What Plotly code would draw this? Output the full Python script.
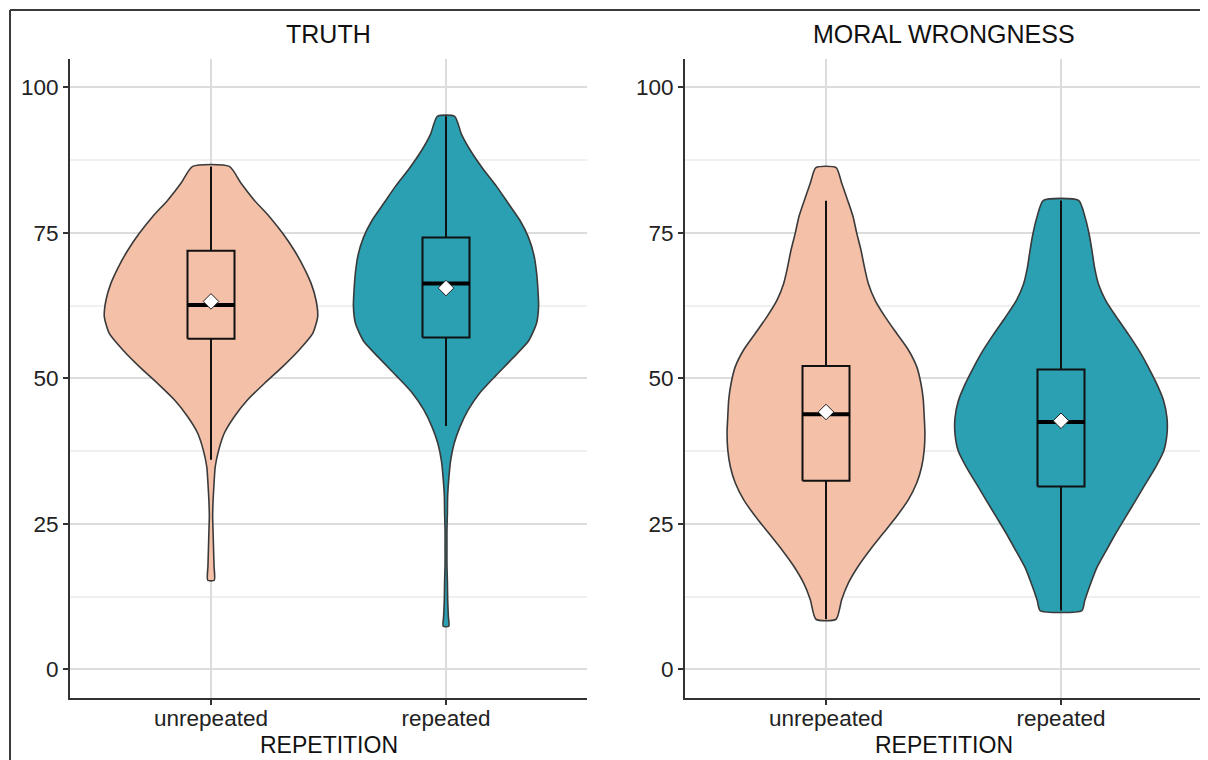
import plotly.graph_objects as go

# ---------------- data ----------------
CATEGORIES = ["unrepeated", "repeated"]
PANELS = ["TRUTH", "MORAL WRONGNESS"]
Y_TICKS = [0, 25, 50, 75, 100]
X_TITLE = "REPETITION"

# violin density profiles: value levels and half-widths (in category units)
TRUTH_UNREP_LEVELS = [86.4, 83.5, 80.6, 77.8, 74.9, 72.0, 69.2, 66.3, 63.4, 60.6, 57.7, 54.9, 52.0,
                      49.1, 46.3, 43.4, 40.6, 37.7, 34.8, 32.0, 29.1, 26.3, 23.4, 20.5, 17.7, 15.3]
TRUTH_UNREP_WIDTH = [0.078, 0.128, 0.184, 0.248, 0.305, 0.354, 0.393, 0.426, 0.447, 0.454, 0.433, 0.376, 0.305,
                     0.227, 0.156, 0.099, 0.057, 0.033, 0.018, 0.013, 0.009, 0.007, 0.009, 0.011, 0.013, 0.014]

TRUTH_REP_LEVELS = [95.0, 91.9, 89.0, 86.0, 83.1, 80.1, 77.1, 74.2, 71.2, 68.3, 65.3, 62.4, 59.4, 56.4, 53.5,
                    50.5, 47.6, 44.6, 41.6, 38.7, 35.7, 32.8, 29.8, 26.9, 23.9, 21.0, 18.0, 15.0, 12.1, 9.1, 7.4]
TRUTH_REP_WIDTH = [0.037, 0.066, 0.106, 0.157, 0.213, 0.264, 0.315, 0.351, 0.374, 0.385, 0.391, 0.394, 0.385,
                   0.351, 0.285, 0.213, 0.146, 0.095, 0.059, 0.034, 0.019, 0.012, 0.007, 0.006, 0.004, 0.004,
                   0.004, 0.006, 0.007, 0.010, 0.012]

MORAL_UNREP_LEVELS = [86.2, 83.5, 80.6, 77.8, 74.9, 72.0, 69.2, 66.3, 63.4, 60.6, 57.7, 54.9, 52.0, 49.1,
                      46.3, 43.4, 40.6, 37.7, 34.8, 32.0, 29.1, 26.3, 23.4, 20.5, 17.7, 14.8, 12.0, 8.6]
MORAL_UNREP_WIDTH = [0.043, 0.067, 0.092, 0.115, 0.131, 0.149, 0.163, 0.180, 0.209, 0.251, 0.301, 0.350,
                     0.386, 0.404, 0.414, 0.418, 0.421, 0.418, 0.407, 0.386, 0.350, 0.301, 0.244, 0.187,
                     0.137, 0.095, 0.067, 0.043]

MORAL_REP_LEVELS = [80.55, 77.6, 74.7, 71.9, 69.0, 66.1, 63.3, 60.4, 57.5, 54.7, 51.8, 48.9, 46.1, 43.2,
                    40.4, 37.5, 34.6, 31.8, 28.9, 26.1, 23.2, 20.3, 17.5, 14.6, 11.8, 10.1]
MORAL_REP_WIDTH = [0.075, 0.103, 0.120, 0.132, 0.143, 0.160, 0.191, 0.238, 0.288, 0.333, 0.373, 0.409,
                   0.437, 0.451, 0.451, 0.437, 0.401, 0.359, 0.316, 0.274, 0.231, 0.191, 0.153, 0.125,
                   0.101, 0.089]

# box summaries (unrepeated, repeated)
TRUTH_Q1 = [56.8, 57.0]
TRUTH_MEDIAN = [62.6, 66.3]
TRUTH_Q3 = [71.9, 74.2]
TRUTH_LOWER = [36.0, 41.8]
TRUTH_UPPER = [86.4, 95.0]
TRUTH_MEAN = [63.2, 65.5]

MORAL_Q1 = [32.4, 31.4]
MORAL_MEDIAN = [43.8, 42.5]
MORAL_Q3 = [52.1, 51.5]
MORAL_LOWER = [8.6, 10.1]
MORAL_UPPER = [80.5, 80.55]
MORAL_MEAN = [44.2, 42.7]

# ---------------- style ----------------
FILLS = ["#F4C0A8", "#2AA0B2"]
OUTLINE = "#3a3a3a"
FONT = "Liberation Sans, Arial, sans-serif"
OFF = 8                      # page body margin of the browser
W, H = 1208 - OFF, 760 - OFF
BOX_W = 0.2


def px(v):
    return (v - OFF) / W


def py(v):
    return 1 - (v - OFF) / H


fig = go.Figure()

panels = [
    dict(xa="x", ya="y",
         violins=[(TRUTH_UNREP_LEVELS, TRUTH_UNREP_WIDTH), (TRUTH_REP_LEVELS, TRUTH_REP_WIDTH)],
         q1=TRUTH_Q1, med=TRUTH_MEDIAN, q3=TRUTH_Q3, lo=TRUTH_LOWER, hi=TRUTH_UPPER, mean=TRUTH_MEAN),
    dict(xa="x2", ya="y2",
         violins=[(MORAL_UNREP_LEVELS, MORAL_UNREP_WIDTH), (MORAL_REP_LEVELS, MORAL_REP_WIDTH)],
         q1=MORAL_Q1, med=MORAL_MEDIAN, q3=MORAL_Q3, lo=MORAL_LOWER, hi=MORAL_UPPER, mean=MORAL_MEAN),
]

for p in panels:
    # violins (density outlines mirrored around each category position)
    for i, (levels, widths) in enumerate(p["violins"]):
        c = i + 1
        xs = [c + w for w in widths] + [c - w for w in reversed(widths)]
        ys = list(levels) + list(reversed(levels))
        xs.append(xs[0])
        ys.append(ys[0])
        fig.add_trace(go.Scatter(
            x=xs, y=ys, mode="lines", fill="toself", fillcolor=FILLS[i],
            line=dict(color=OUTLINE, width=1.6, shape="spline", smoothing=0.6),
            xaxis=p["xa"], yaxis=p["ya"], showlegend=False, hoverinfo="skip"))
    # boxplots drawn on top of the violins
    for i in range(2):
        c = i + 1
        l, r = c - BOX_W / 2, c + BOX_W / 2
        q1, q3, med = p["q1"][i], p["q3"][i], p["med"][i]
        fig.add_trace(go.Scatter(
            x=[c, c, None, c, c, None, l, r, r, l, l],
            y=[q3, p["hi"][i], None, q1, p["lo"][i], None, q1, q1, q3, q3, q1],
            mode="lines", line=dict(color="#111111", width=2),
            xaxis=p["xa"], yaxis=p["ya"], showlegend=False, hoverinfo="skip"))
        fig.add_trace(go.Scatter(
            x=[l, r], y=[med, med],
            mode="lines", line=dict(color="#000000", width=4),
            xaxis=p["xa"], yaxis=p["ya"], showlegend=False, hoverinfo="skip"))
        fig.add_trace(go.Scatter(
            x=[c], y=[p["mean"][i]], mode="markers",
            marker=dict(symbol="diamond", size=12, color="white",
                        line=dict(color="#222222", width=1)),
            xaxis=p["xa"], yaxis=p["ya"], showlegend=False))

ydom = [py(698), py(59.3)]
xdoms = [[px(70), px(587)], [px(685), px(1202)]]
yrange = [-4.93, 104.8]


def xaxis_cfg(dom, anchor):
    return dict(domain=dom, anchor=anchor, range=[0.4, 2.6],
                tickvals=[1, 2], ticktext=CATEGORIES,
                showgrid=True, gridcolor="#DCDCDC", gridwidth=1.6,
                showline=True, linecolor="#333333", linewidth=2,
                ticks="outside", ticklen=5, tickwidth=1.6, tickcolor="#333333",
                ticklabelstandoff=-6,
                tickfont=dict(family=FONT, size=22.5, color="#222222"),
                zeroline=False, fixedrange=True)


def yaxis_cfg(anchor):
    return dict(domain=ydom, anchor=anchor, range=yrange,
                tickvals=Y_TICKS, showgrid=True, gridcolor="#DCDCDC", gridwidth=1.6,
                minor=dict(tickvals=[12.5, 37.5, 62.5, 87.5], showgrid=True,
                           gridcolor="#F0F0F0", gridwidth=1.6, ticks=""),
                showline=True, linecolor="#333333", linewidth=2,
                ticks="outside", ticklen=5, tickwidth=1.6, tickcolor="#333333",
                tickfont=dict(family=FONT, size=22.5, color="#222222"),
                zeroline=False, fixedrange=True)


annotations = []
for k, title in enumerate(PANELS):
    cx = (xdoms[k][0] + xdoms[k][1]) / 2
    annotations.append(dict(text=title, x=cx, y=py(34), xref="paper", yref="paper",
                            xanchor="center", yanchor="middle", showarrow=False,
                            font=dict(family=FONT, size=25, color="#111111")))
    annotations.append(dict(text=X_TITLE, x=cx, y=py(745), xref="paper", yref="paper",
                            xanchor="center", yanchor="middle", showarrow=False,
                            font=dict(family=FONT, size=23, color="#111111")))

fig.update_layout(
    width=W, height=H, margin=dict(l=0, r=0, t=0, b=0),
    paper_bgcolor="white", plot_bgcolor="white",
    xaxis=xaxis_cfg(xdoms[0], "y"), yaxis=yaxis_cfg("x"),
    xaxis2=xaxis_cfg(xdoms[1], "y2"), yaxis2=yaxis_cfg("x2"),
    annotations=annotations,
    shapes=[
        dict(type="line", xref="paper", yref="paper", x0=px(10), x1=1, y0=py(10), y1=py(10),
             line=dict(color="#3a3a3a", width=2)),
        dict(type="line", xref="paper", yref="paper", x0=px(10), x1=px(10), y0=0, y1=py(10),
             line=dict(color="#3a3a3a", width=2)),
    ],
    showlegend=False,
)

fig.write_html("out.html")
